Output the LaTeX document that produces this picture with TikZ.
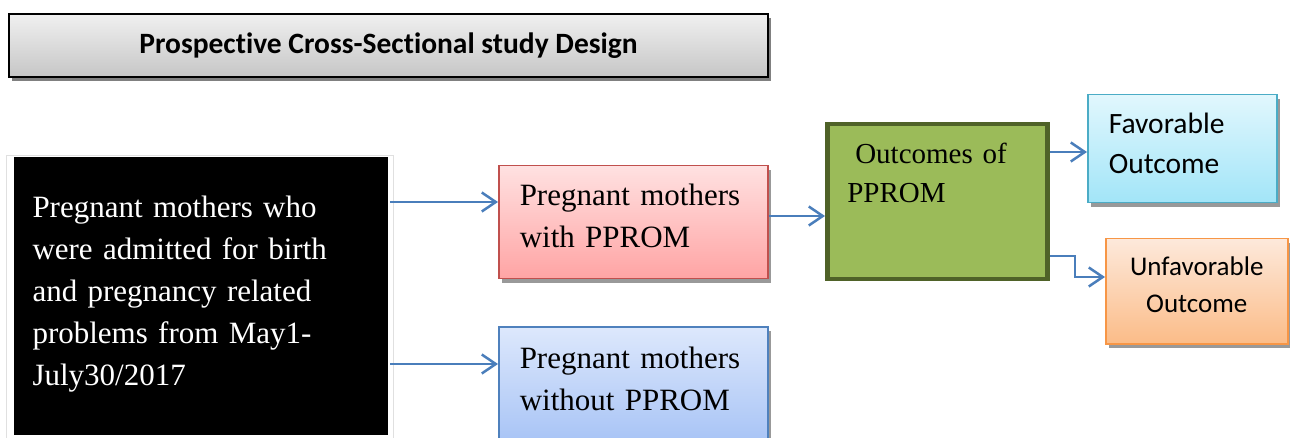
\documentclass[tikz,border=0pt]{standalone}
\usepackage{fontspec}
\setmainfont{Liberation Serif}
\newfontfamily\calibri[Ligatures=NoCommon]{Carlito}
\usepackage{tikz}
\usetikzlibrary{arrows.meta,shadows}
\definecolor{flowblue}{HTML}{4A7EBB}
\definecolor{titletop}{HTML}{F0F0F0}
\definecolor{titlebot}{HTML}{C6C6C6}
\definecolor{redline}{HTML}{C0504D}
\definecolor{redtop}{HTML}{FFE1E1}
\definecolor{redbot}{HTML}{FFA4A4}
\definecolor{blueline}{HTML}{4F81BD}
\definecolor{bluetop}{HTML}{DDE8FC}
\definecolor{bluebot}{HTML}{A4C1F5}
\definecolor{oliveline}{HTML}{4F6228}
\definecolor{greenfill}{HTML}{9BBB59}
\definecolor{cyanline}{HTML}{4BACC6}
\definecolor{cyantop}{HTML}{E1F7FD}
\definecolor{cyanbot}{HTML}{A2E5F8}
\definecolor{orangeline}{HTML}{F79646}
\definecolor{orangetop}{HTML}{FDE9DB}
\definecolor{orangebot}{HTML}{FBBC88}

\begin{document}
\begin{tikzpicture}[x=1pt, y=-1pt, line width=1pt,
  box/.style={rectangle, anchor=north west, inner ysep=0pt, align=left},
  boxshadow/.style={drop shadow={shadow xshift=3pt, shadow yshift=-4pt,
                                 fill=black!40, opacity=1}},
  flow/.style={flowblue, line width=2.5pt,
               -{Straight Barb[length=14pt, width=19pt]}},
  serifbig/.style={font=\fontsize{31}{42}\selectfont}]

  \path[use as bounding box, fill=white] (0,0) rectangle (1290,438);

  % -- the heading bar ------------------------------------------------------
  \node[box, align=center, minimum width=759pt, minimum height=63pt,
        draw=black, line width=2pt, top color=titletop, bottom color=titlebot,
        drop shadow={shadow xshift=3pt, shadow yshift=-4pt, fill=black!50, opacity=1},
        font=\calibri\bfseries\fontsize{29.5}{36}\selectfont]
    (title) at (8,13) {Prospective Cross-Sectional study Design};

  % -- the source population, black box in a thin frame ---------------------
  \draw[black!12, line width=1pt] (6,156) rectangle (393,446);
  \node[box, fill=black, text=white, serifbig, inner xsep=19pt,
        text width=336pt, text height=60pt, text depth=217pt]
    (src) at (13,157)
    {\mbox{Pregnant mothers who}\\\mbox{were admitted for birth}\\
     \mbox{and pregnancy related}\\\mbox{problems from May1-}\\\mbox{July30/2017}};

  % -- the two groups ---------------------------------------------------------
  \node[box, draw=redline, line width=1.5pt, top color=redtop, bottom color=redbot,
        boxshadow, serifbig, inner xsep=21pt, text width=227pt,
        text height=40pt, text depth=73pt]
    (withp) at (498,165) {\mbox{Pregnant mothers}\\\mbox{with PPROM}};
  \node[box, draw=blueline, line width=1.5pt, top color=bluetop, bottom color=bluebot,
        boxshadow, serifbig, inner xsep=21pt, text width=227pt,
        text height=42pt, text depth=82pt]
    (withoutp) at (498,326) {\mbox{Pregnant mothers}\\\mbox{without PPROM}};

  % -- outcomes ---------------------------------------------------------------
  \node[box, draw=oliveline, line width=4.5pt, fill=greenfill,
        font=\fontsize{29}{39}\selectfont, inner xsep=20pt, text width=180pt,
        text height=39pt, text depth=116pt]
    (outc) at (825,122) {\hspace*{8pt}Outcomes of\\PPROM};
  \node[box, draw=cyanline, line width=1.5pt, top color=cyantop, bottom color=cyanbot,
        boxshadow, font=\calibri\fontsize{29.5}{40}\selectfont,
        inner xsep=21pt, text width=147pt, text height=39pt, text depth=69pt]
    (fav) at (1087,94) {Favorable\\Outcome};
  \node[box, align=center, draw=orangeline, line width=1.5pt,
        top color=orangetop, bottom color=orangebot, boxshadow,
        font=\calibri\fontsize{27}{37}\selectfont,
        inner xsep=8pt, text width=166pt, text height=37pt, text depth=68pt]
    (unfav) at (1105,238) {Unfavorable\\Outcome};

  % -- connectors: heights where the arrows run ------------------------------
  \coordinate (lvA) at (0,202);
  \coordinate (lvB) at (0,364);
  \coordinate (lvC) at (0,216);
  \coordinate (lvD) at (0,152);
  \coordinate (lvE) at (0,256);
  \coordinate (lvF) at (0,277);
  \coordinate (bend) at (1075,0);

  \draw[flow, shorten <=2pt] (src.east |- lvA) -- (withp.west |- lvA);
  \draw[flow, shorten <=2pt] (src.east |- lvB) -- (withoutp.west |- lvB);
  \draw[flow] (withp.east |- lvC) -- (outc.west |- lvC);
  \draw[flow] (outc.east |- lvD) -- (fav.west |- lvD);
  \draw[flow] (outc.east |- lvE) -- (bend |- lvE) -- (bend |- lvF) -- (unfav.west |- lvF);

\end{tikzpicture}
\end{document}
